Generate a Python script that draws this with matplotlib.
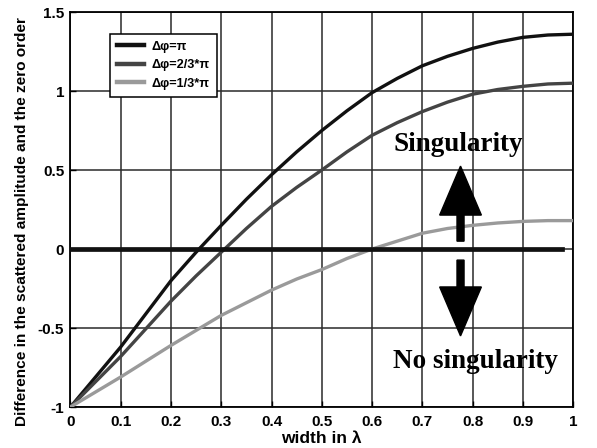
import matplotlib
matplotlib.use("Agg")
import matplotlib.pyplot as plt

width = [0.0, 0.05, 0.1, 0.15, 0.2, 0.25, 0.3, 0.35, 0.4, 0.45, 0.5,
         0.55, 0.6, 0.65, 0.7, 0.75, 0.8, 0.85, 0.9, 0.95, 1.0]
dphi_pi = [-1.0, -0.81, -0.62, -0.41, -0.2, -0.02, 0.15, 0.315, 0.47, 0.615, 0.75,
           0.875, 0.99, 1.08, 1.16, 1.22, 1.27, 1.31, 1.34, 1.355, 1.36]
dphi_2_3 = [-1.0, -0.84, -0.68, -0.505, -0.33, -0.17, -0.02, 0.13, 0.27, 0.39, 0.5,
            0.615, 0.72, 0.80, 0.87, 0.93, 0.98, 1.01, 1.03, 1.045, 1.05]
dphi_1_3 = [-1.0, -0.905, -0.81, -0.71, -0.61, -0.515, -0.42, -0.34, -0.26, -0.19, -0.13,
            -0.06, 0.0, 0.05, 0.10, 0.13, 0.15, 0.165, 0.175, 0.18, 0.18]
labels = ["Δφ=π", "Δφ=2/3*π", "Δφ=1/3*π"]
zero_x = [0.0, 0.978]
zero_y = [0.0, 0.0]
xticks = [0, 0.1, 0.2, 0.3, 0.4, 0.5, 0.6, 0.7, 0.8, 0.9, 1]
xticklabels = ["0", "0.1", "0.2", "0.3", "0.4", "0.5", "0.6", "0.7", "0.8", "0.9", "1"]
yticks = [-1, -0.5, 0, 0.5, 1, 1.5]
yticklabels = ["-1", "-0.5", "0", "0.5", "1", "1.5"]

plt.rcParams['font.family'] = ['Liberation Sans', 'DejaVu Sans']
plt.rcParams['font.weight'] = 'bold'

fig = plt.figure(figsize=(5.97, 4.48), dpi=100)
ax = fig.add_axes([0.118, 0.0915, 0.842, 0.8815])

ax.plot(width, dphi_pi, color='#111111', lw=2.4, label=labels[0], zorder=3)
ax.plot(width, dphi_2_3, color='#444444', lw=2.4, label=labels[1], zorder=3)
ax.plot(width, dphi_1_3, color='#9a9a9a', lw=2.4, label=labels[2], zorder=3)
ax.plot(zero_x, zero_y, color='#111111', lw=3.4, zorder=3)

ax.set_xlim(0, 1)
ax.set_ylim(-1, 1.5)
ax.set_xticks(xticks)
ax.set_xticklabels(xticklabels, fontsize=11, fontweight='bold')
ax.set_yticks(yticks)
ax.set_yticklabels(yticklabels, fontsize=11, fontweight='bold')
ax.tick_params(direction='in', length=4, width=1)
ax.tick_params(axis='x', pad=5.5)
ax.tick_params(axis='y', pad=4.5)
ax.grid(True, color='#2a2a2a', lw=1.1)
for s in ax.spines.values():
    s.set_color('black')
    s.set_linewidth(1.3)

ax.set_xlabel("width in λ", fontsize=12.5, fontweight='bold', va='top')
ax.xaxis.set_label_coords(0.5, -0.062)
ax.set_ylabel("Difference in the scattered amplitude and the zero order",
              fontsize=11.1, fontweight='bold', va='center')
ax.yaxis.set_label_coords(-0.096, 0.47)

leg = ax.legend(loc='upper left', bbox_to_anchor=(0.079, 0.945), fancybox=False,
                edgecolor='black', framealpha=1, fontsize=9.2, handlelength=2.1,
                handletextpad=0.6, borderaxespad=0, borderpad=0.55, labelspacing=0.5)
leg.get_frame().set_linewidth(1.1)
for t in leg.get_texts():
    t.set_fontweight('bold')
for l in leg.get_lines():
    l.set_linewidth(3.2)

# arrows
ax.arrow(0.776, 0.05, 0, 0.165, width=0.014, head_width=0.083, head_length=0.31,
         length_includes_head=False, color='black', zorder=4)
ax.arrow(0.776, -0.07, 0, -0.17, width=0.014, head_width=0.083, head_length=0.31,
         length_includes_head=False, color='black', zorder=4)

ax.text(0.771, 0.66, "Singularity", family=['Liberation Serif'], fontweight='bold',
        fontsize=19.5, ha='center', va='center', zorder=5)
ax.text(0.805, -0.71, "No singularity", family=['Liberation Serif'], fontweight='bold',
        fontsize=19.5, ha='center', va='center', zorder=5)

fig.savefig("out.png", dpi=100)
